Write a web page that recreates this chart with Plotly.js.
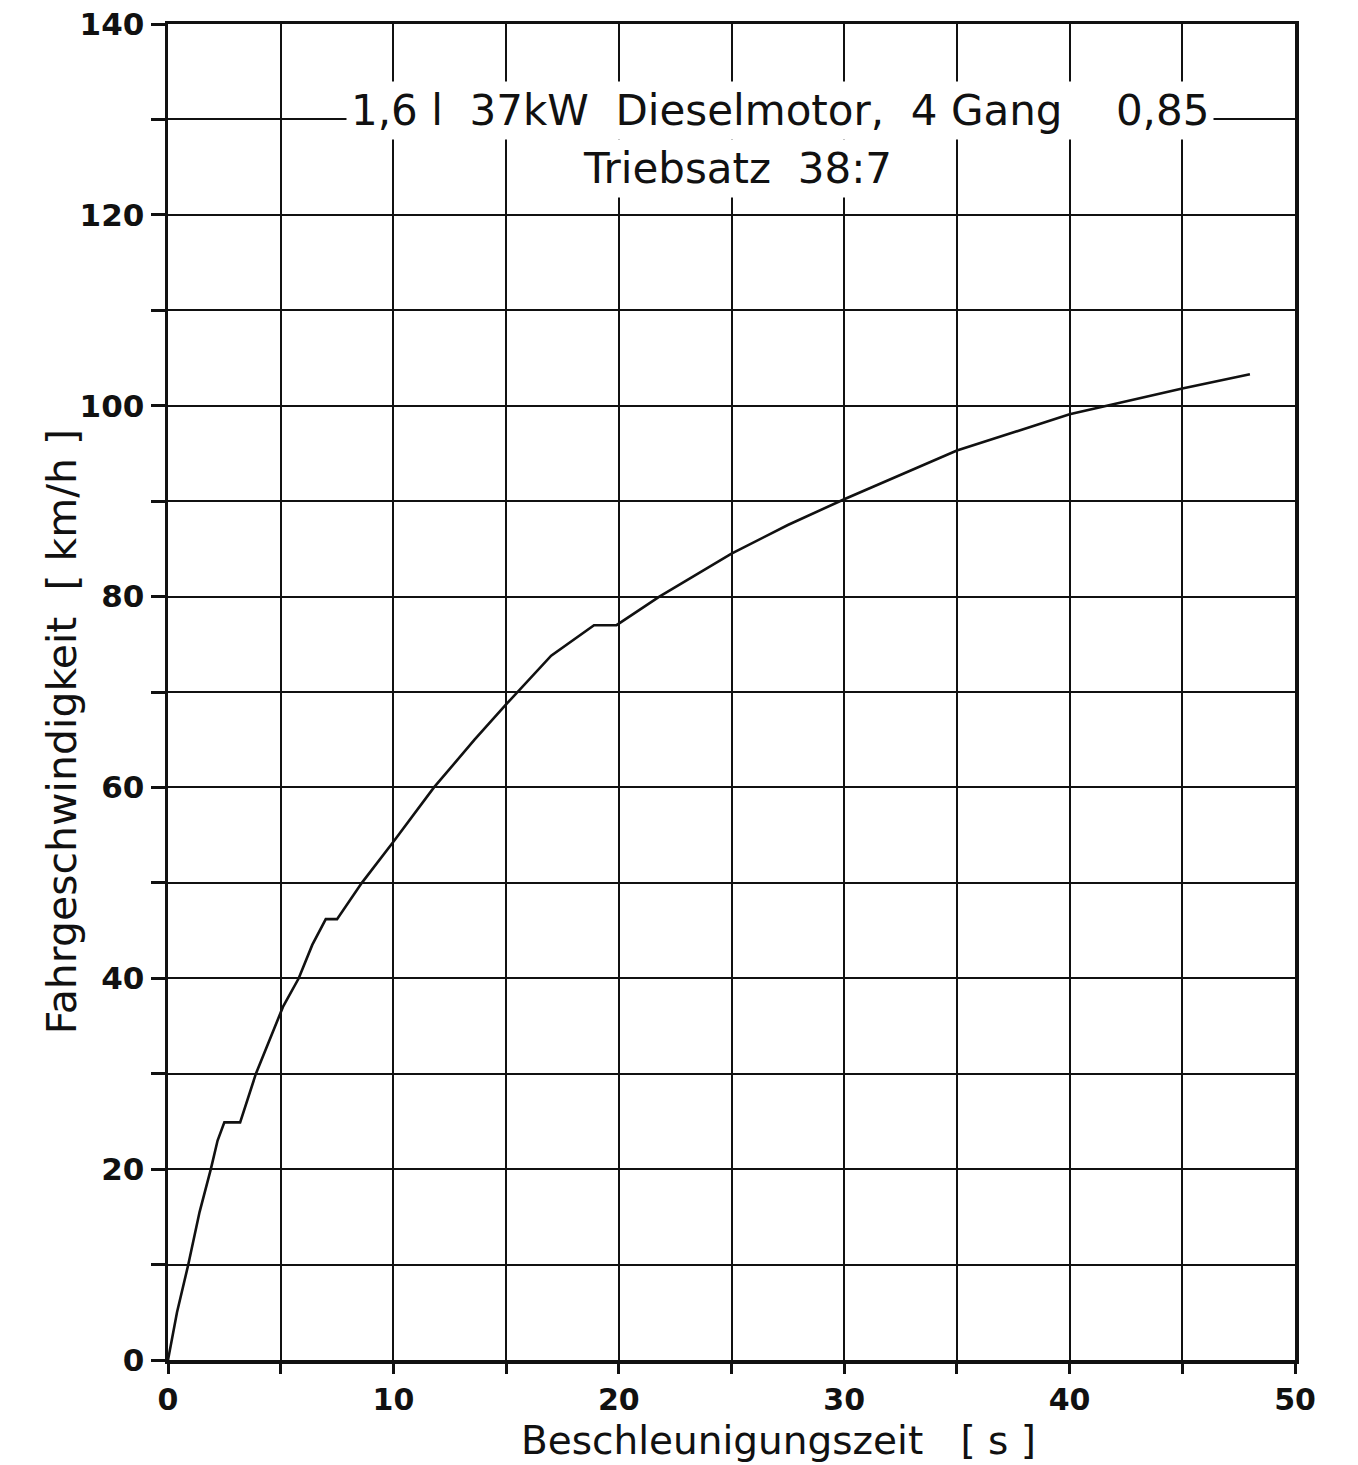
<!DOCTYPE html>
<html>
<head>
<meta charset="utf-8">
<script src="https://cdn.plot.ly/plotly-3.0.1.min.js"></script>
<style>
  html, body { margin: 0; padding: 0; background: #ffffff; }
  #chart { width: 1358px; height: 1465px; }
</style>
</head>
<body>
<div id="chart"></div>
<script>
// Beschleunigungszeit [s]
const zeit = [0, 0.4, 0.9, 1.4, 1.9, 2.2, 2.5, 3.2, 3.9, 4.5, 5.1, 5.8, 6.4, 7.0, 7.5, 8.6, 10, 11.8, 13.6, 15, 15.5, 17, 18.9, 19.9, 21.8, 22.5, 25, 27.5, 30, 35, 40, 45, 48];
// Fahrgeschwindigkeit [km/h]
const geschw = [0, 5, 10, 15.5, 20, 23, 24.9, 24.9, 30, 33.5, 37, 40, 43.5, 46.2, 46.2, 50, 54.3, 60, 65, 68.7, 70, 73.8, 77, 77, 80, 81, 84.5, 87.5, 90.2, 95.3, 99.1, 101.8, 103.3];

const yTickVals = [0, 10, 20, 30, 40, 50, 60, 70, 80, 90, 100, 110, 120, 130, 140];
const yTickText = ['0', '', '20', '', '40', '', '60', '', '80', '', '100', '', '120', '', '140'];
const xTickVals = [0, 5, 10, 15, 20, 25, 30, 35, 40, 45, 50];
const xTickText = ['0', '', '10', '', '20', '', '30', '', '40', '', '50'];

const titleLine1 = '1,6 l  37kW  Dieselmotor,  4 Gang    0,85';
const titleLine2 = 'Triebsatz  38:7';
const xTitle = 'Beschleunigungszeit   [ s ]';
const yTitle = 'Fahrgeschwindigkeit  [ km/h ]';

const font = 'DejaVu Sans, Liberation Sans, sans-serif';
const ink = '#111111';

const trace = {
  x: zeit,
  y: geschw,
  type: 'scatter',
  mode: 'lines',
  line: { color: ink, width: 2.6, shape: 'linear' },
  hoverinfo: 'skip',
  showlegend: false
};

const layout = {
  width: 1358,
  height: 1465,
  margin: { l: 168, r: 63, t: 24, b: 105 },
  paper_bgcolor: '#ffffff',
  plot_bgcolor: '#ffffff',
  showlegend: false,
  xaxis: {
    range: [0, 50],
    tickmode: 'array',
    tickvals: xTickVals,
    ticktext: xTickText,
    ticks: 'outside',
    ticklen: 10,
    tickwidth: 3,
    tickcolor: ink,
    showgrid: true,
    gridcolor: ink,
    gridwidth: 2,
    zeroline: false,
    showline: true,
    linecolor: ink,
    linewidth: 3.5,
    mirror: true,
    tickfont: { family: font, size: 30, color: ink, weight: 'bold' },
    fixedrange: true
  },
  yaxis: {
    range: [0, 140],
    tickmode: 'array',
    tickvals: yTickVals,
    ticktext: yTickText,
    ticks: 'outside',
    ticklen: 14,
    tickwidth: 3,
    tickcolor: ink,
    showgrid: true,
    gridcolor: ink,
    gridwidth: 2,
    zeroline: false,
    showline: true,
    linecolor: ink,
    linewidth: 3.5,
    mirror: true,
    tickfont: { family: font, size: 31, color: ink, weight: 'bold' },
    fixedrange: true
  },
  annotations: [
    {
      xref: 'paper', yref: 'paper',
      x: 0.543, y: 0.9356,
      xanchor: 'center', yanchor: 'middle',
      text: titleLine1,
      showarrow: false,
      bgcolor: '#ffffff',
      borderpad: 4,
      font: { family: font, size: 42, color: ink }
    },
    {
      xref: 'paper', yref: 'paper',
      x: 0.505, y: 0.892,
      xanchor: 'center', yanchor: 'middle',
      text: titleLine2,
      showarrow: false,
      bgcolor: '#ffffff',
      borderpad: 4,
      font: { family: font, size: 42, color: ink }
    },
    {
      xref: 'paper', yref: 'paper',
      x: 0.542, y: -0.0605,
      xanchor: 'center', yanchor: 'middle',
      text: xTitle,
      showarrow: false,
      font: { family: font, size: 39, color: ink }
    },
    {
      xref: 'paper', yref: 'paper',
      x: -0.094, y: 0.470,
      xanchor: 'center', yanchor: 'middle',
      text: yTitle,
      textangle: -90,
      showarrow: false,
      font: { family: font, size: 41, color: ink }
    }
  ]
};

Plotly.newPlot('chart', [trace], layout, { displayModeBar: false, staticPlot: true });
</script>
</body>
</html>
